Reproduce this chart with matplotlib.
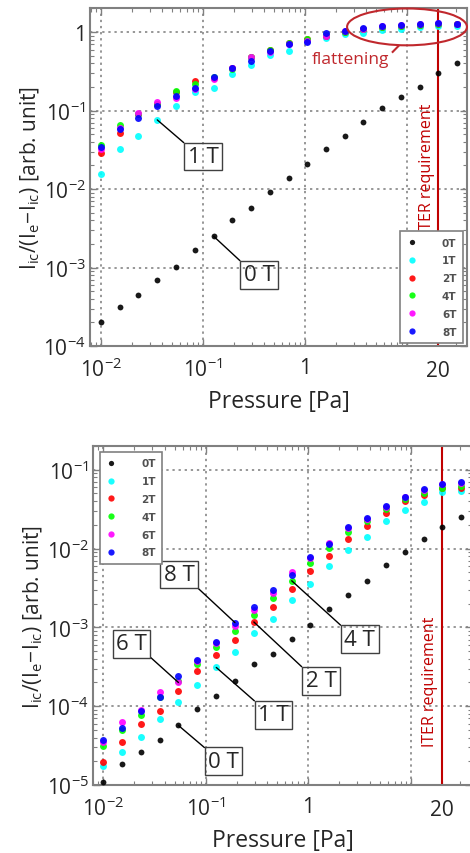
import matplotlib
matplotlib.use('Agg')
import matplotlib.pyplot as plt
from matplotlib.patches import Ellipse
from matplotlib.ticker import NullFormatter
from matplotlib.transforms import blended_transform_factory

plt.rcParams['font.family'] = ['Open Sans', 'DejaVu Sans']
plt.rcParams['mathtext.fontset'] = 'custom'
plt.rcParams['mathtext.rm'] = 'Open Sans'
plt.rcParams['mathtext.it'] = 'Open Sans:italic'
plt.rcParams['mathtext.bf'] = 'Open Sans:bold'

# pressures [Pa], same for both panels
pressure = [0.010, 0.0153, 0.0233, 0.0356, 0.0543, 0.083, 0.127, 0.193, 0.295, 0.45,
            0.69, 1.05, 1.6, 2.45, 3.7, 5.7, 8.7, 13.3, 20.3, 31.0]

field_labels = ['0T', '1T', '2T', '4T', '6T', '8T']
field_colors = ['black', '#00ffff', '#ff0000', '#00ff00', '#ff00ff', '#0000ff']

# upper panel
top_0T = [2.0e-4, 3.1e-4, 4.4e-4, 7.0e-4, 1.03e-3, 1.65e-3, 2.5e-3, 4.0e-3, 5.7e-3, 9.3e-3,
          0.014, 0.021, 0.032, 0.047, 0.071, 0.107, 0.148, 0.20, 0.30, 0.40]
top_1T = [0.0155, 0.032, 0.047, 0.076, 0.116, 0.17, 0.195, 0.29, 0.38, 0.51,
          0.57, 0.78, 0.84, 0.94, 0.98, 1.05, 1.08, 1.15, 1.2, 1.2]
top_2T = [0.029, 0.052, 0.09, 0.12, 0.17, 0.24, 0.26, 0.35, 0.48, 0.6,
          0.72, 0.81, 0.9, 1.0, 1.1, 1.17, 1.2, 1.22, 1.26, 1.25]
top_4T = [0.036, 0.066, 0.09, 0.12, 0.175, 0.215, 0.27, 0.34, 0.48, 0.6,
          0.72, 0.81, 0.92, 1.0, 1.1, 1.15, 1.2, 1.22, 1.25, 1.25]
top_6T = [0.032, 0.06, 0.094, 0.13, 0.145, 0.19, 0.25, 0.35, 0.48, 0.55,
          0.70, 0.77, 0.9, 1.02, 1.1, 1.18, 1.22, 1.27, 1.3, 1.27]
top_8T = [0.034, 0.058, 0.081, 0.113, 0.155, 0.195, 0.27, 0.345, 0.43, 0.57,
          0.70, 0.74, 0.96, 1.02, 1.12, 1.19, 1.23, 1.27, 1.30, 1.27]

# lower panel
bot_0T = [1.1e-5, 1.85e-5, 2.6e-5, 3.7e-5, 5.7e-5, 9.3e-5, 1.36e-4, 2.1e-4, 3.4e-4, 4.6e-4,
          7.1e-4, 1.07e-3, 1.7e-3, 2.6e-3, 3.9e-3, 6.2e-3, 9.1e-3, 0.0132, 0.019, 0.025]
bot_1T = [1.75e-5, 2.6e-5, 4.1e-5, 6.8e-5, 1.12e-4, 1.87e-4, 3.1e-4, 4.9e-4, 8.5e-4, 1.29e-3,
          2.2e-3, 3.5e-3, 6.0e-3, 9.6e-3, 0.014, 0.0225, 0.031, 0.039, 0.052, 0.054]
bot_2T = [1.95e-5, 3.5e-5, 5.9e-5, 8.7e-5, 1.55e-4, 2.8e-4, 4.5e-4, 6.9e-4, 1.17e-3, 1.8e-3,
          3.1e-3, 5.2e-3, 8.1e-3, 0.0131, 0.0195, 0.028, 0.040, 0.048, 0.059, 0.058]
bot_4T = [3.1e-5, 5.0e-5, 7.7e-5, 1.3e-4, 2.1e-4, 3.4e-4, 5.6e-4, 9.1e-4, 1.44e-3, 2.35e-3,
          3.9e-3, 6.6e-3, 0.0102, 0.0162, 0.0225, 0.032, 0.043, 0.051, 0.059, 0.062]
bot_6T = [3.5e-5, 6.3e-5, 8.9e-5, 1.5e-4, 2.0e-4, 3.7e-4, 6.3e-4, 1.05e-3, 1.65e-3, 2.7e-3,
          5.0e-3, 7.5e-3, 0.0118, 0.018, 0.024, 0.034, 0.045, 0.056, 0.065, 0.068]
bot_8T = [3.7e-5, 5.3e-5, 8.7e-5, 1.3e-4, 2.4e-4, 3.9e-4, 6.6e-4, 1.15e-3, 1.8e-3, 3.0e-3,
          4.6e-3, 7.8e-3, 0.0115, 0.019, 0.0245, 0.035, 0.045, 0.057, 0.066, 0.07]

top_series = [top_0T, top_1T, top_2T, top_4T, top_6T, top_8T]
bot_series = [bot_0T, bot_1T, bot_2T, bot_4T, bot_6T, bot_8T]

x_ticks = [0.01, 0.1, 1, 10]
x_ticklabels = [r'$10^{-2}$', r'$10^{-1}$', '1', '']
top_yticks = [1e-4, 1e-3, 1e-2, 1e-1, 1]
top_yticklabels = [r'$10^{-4}$', r'$10^{-3}$', r'$10^{-2}$', r'$10^{-1}$', '1']
bot_yticks = [1e-5, 1e-4, 1e-3, 1e-2, 1e-1]
bot_yticklabels = [r'$10^{-5}$', r'$10^{-4}$', r'$10^{-3}$', r'$10^{-2}$', r'$10^{-1}$']

iter_pressure = 20
ylabel = r'$\mathregular{I_{ic}/(I_e\!-\!I_{ic})}$ [arb. unit]'
spine_col = '#808080'
iter_col = '#c00000'
text_col = '#262626'

fig = plt.figure(figsize=(4.7, 8.54), dpi=100)
ax_top = fig.add_axes([0.1915, 0.5937, 0.802, 0.3958])
ax_bot = fig.add_axes([0.198, 0.0796, 0.806, 0.397])


def style_axes(ax, xlim, ylim, yticks, yticklabels):
    ax.set_xscale('log')
    ax.set_yscale('log')
    ax.set_xlim(*xlim)
    ax.set_ylim(*ylim)
    ax.set_xticks(x_ticks, x_ticklabels)
    ax.set_yticks(yticks, yticklabels)
    ax.xaxis.set_minor_formatter(NullFormatter())
    ax.yaxis.set_minor_formatter(NullFormatter())
    ax.tick_params(which='both', direction='in', top=True, right=True, color=spine_col,
                   labelcolor=text_col)
    ax.tick_params(which='major', length=5, width=1, labelsize=15)
    ax.tick_params(which='minor', length=3, width=0.8)
    ax.tick_params(axis='x', pad=8)
    ax.tick_params(axis='y', pad=3)
    for s in ax.spines.values():
        s.set_color(spine_col)
        s.set_linewidth(1.5)
    ax.grid(True, which='major', linestyle=(0, (1.5, 2.5)), color='#7a7a7a', linewidth=1.1)
    ax.set_xlabel('Pressure [Pa]', fontsize=16.5, color=text_col, labelpad=6)
    ax.set_ylabel(ylabel, fontsize=15, color=text_col, labelpad=1)
    # extra "20" label below the ITER line
    trans = blended_transform_factory(ax.transData, ax.transAxes)
    ax.text(iter_pressure, -0.04, '20', transform=trans, ha='center', va='top',
            fontsize=15, color=text_col)
    ax.axvline(iter_pressure, color=iter_col, linewidth=1.5, zorder=2)


def scatter_fields(ax, series):
    for vals, lab, col in zip(series, field_labels, field_colors):
        ms = 4.2 if lab == '0T' else 5.0
        ax.plot(pressure, vals, linestyle='none', marker='o', markersize=ms,
                markeredgewidth=0, color=col, label=lab, zorder=3, alpha=0.9)


def legend(ax, loc, anchor):
    leg = ax.legend(loc=loc, bbox_to_anchor=anchor, frameon=True,
                    fancybox=False, framealpha=1, edgecolor=spine_col, markerscale=0.9,
                    handlelength=1.0, handletextpad=2.4, labelspacing=0.75,
                    borderpad=0.6, borderaxespad=0,
                    prop={'family': ['Liberation Sans Narrow', 'DejaVu Sans'], 'size': 7.5,
                          'weight': 'bold'})
    leg.get_frame().set_linewidth(1.2)
    for t in leg.get_texts():
        t.set_color('#505050')
    leg.set_zorder(5)
    return leg


def label_box(ax, text, point, box, relpos):
    ax.annotate(text, xy=point, xytext=box, textcoords='data', ha='center', va='center',
                fontsize=16, color=text_col,
                bbox=dict(boxstyle='square,pad=0.15', facecolor='none', edgecolor='#404040', lw=1),
                arrowprops=dict(arrowstyle='-', color='black', lw=1, relpos=relpos,
                                shrinkA=0, shrinkB=0),
                zorder=4)


# ---- upper panel ----
style_axes(ax_top, (0.0078, 38.6), (1e-4, 2.03), top_yticks, top_yticklabels)
scatter_fields(ax_top, top_series)
legend(ax_top, 'lower right', (0.989, 0.009))
label_box(ax_top, '1 T', (pressure[3], top_1T[3]), (0.1, 0.026), (0, 1))
label_box(ax_top, '0 T', (pressure[6], top_0T[6]), (0.355, 8.1e-4), (0, 1))
ax_top.text(15.7, 0.0186, 'ITER requirement', rotation=90, ha='center', va='center',
            fontsize=11.5, color=iter_col)
ax_top.text(2.8, 0.45, 'flattening', ha='center', va='center', fontsize=12.5, color='#c0282d')
ax_top.add_patch(Ellipse((0.841, 0.944), 0.318, 0.109, transform=ax_top.transAxes,
                         facecolor='none', edgecolor='#c0282d', lw=1.5, clip_on=False, zorder=4))
ax_top.plot([0.818, 0.803], [0.887, 0.870], transform=ax_top.transAxes, color='#c0282d',
            lw=1.5, clip_on=False, zorder=4)

# ---- lower panel ----
style_axes(ax_bot, (0.008, 39.3), (1e-5, 0.20), bot_yticks, bot_yticklabels)
scatter_fields(ax_bot, bot_series)
legend(ax_bot, 'upper left', (0.018, 0.982))
label_box(ax_bot, '8 T', (pressure[7], bot_8T[7]), (0.055, 4.7e-3), (1, 0))
label_box(ax_bot, '6 T', (pressure[4], bot_6T[4]), (0.019, 6.2e-4), (1, 0))
label_box(ax_bot, '0 T', (pressure[4], bot_0T[4]), (0.15, 2.0e-5), (0, 1))
label_box(ax_bot, '1 T', (pressure[6], bot_1T[6]), (0.46, 7.8e-5), (0, 1))
label_box(ax_bot, '2 T', (pressure[8], bot_2T[8]), (1.33, 2.1e-4), (0, 1))
label_box(ax_bot, '4 T', (pressure[10], bot_4T[10]), (3.18, 7.1e-4), (0, 1))
ax_bot.text(15.3, 2.1e-4, 'ITER requirement', rotation=90, ha='center', va='center',
            fontsize=11.5, color=iter_col)

fig.savefig('out.png', dpi=100)
